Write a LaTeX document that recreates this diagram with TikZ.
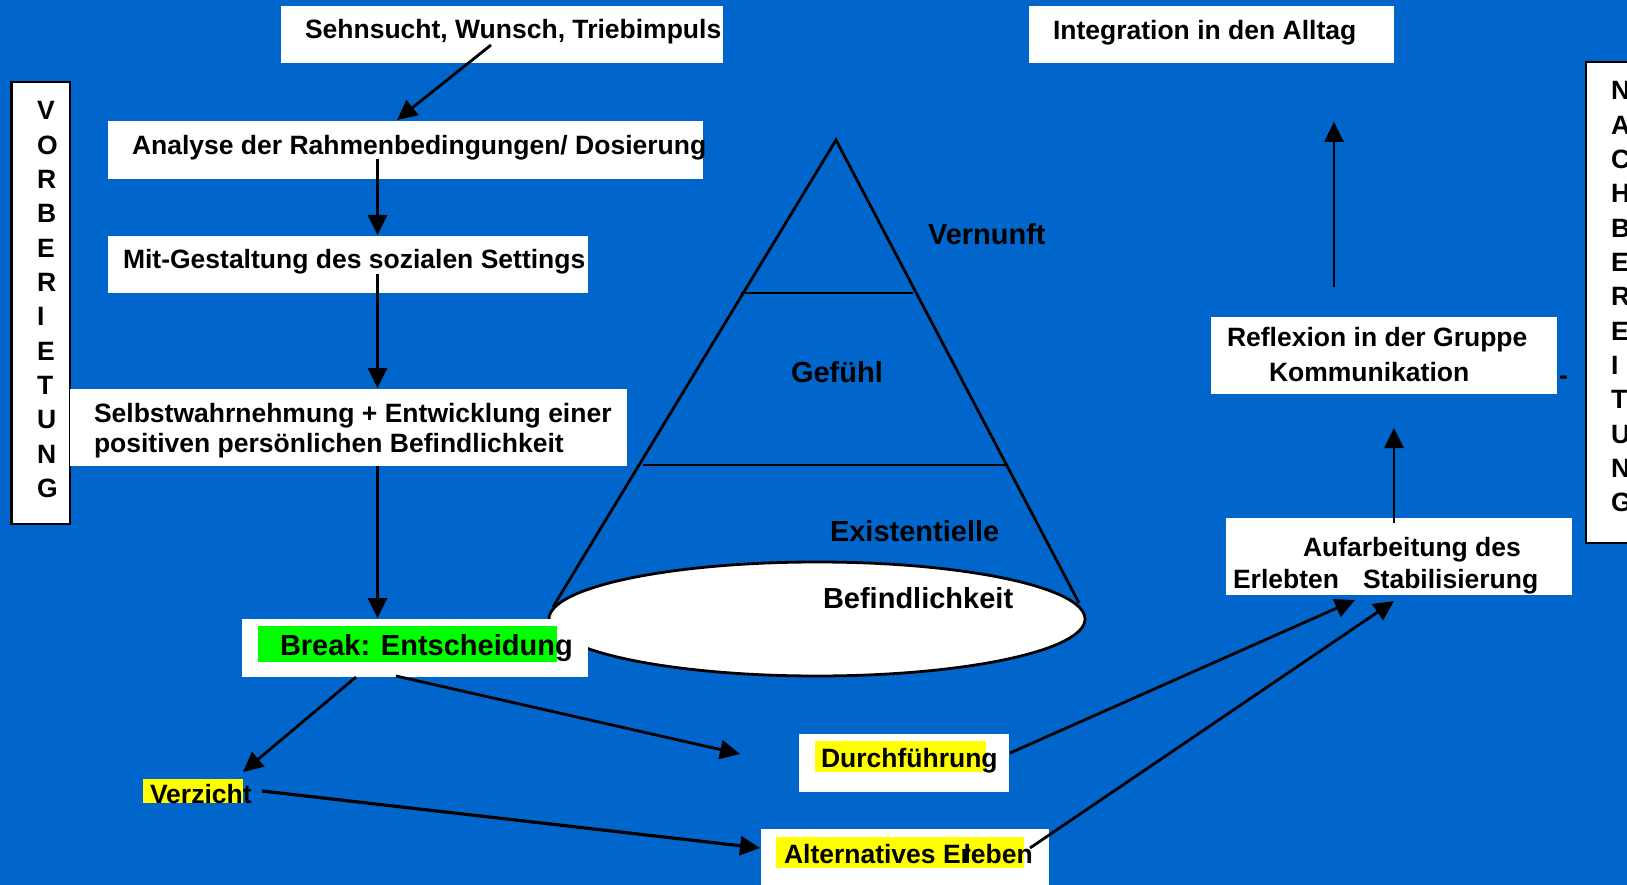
\documentclass[tikz,border=0pt]{standalone}
\usepackage{fontspec}
\setmainfont{Liberation Sans}
\usetikzlibrary{arrows.meta,shapes.geometric}
\definecolor{bgblue}{RGB}{0,102,204}
\definecolor{hlgreen}{RGB}{0,255,0}
\definecolor{hlyellow}{RGB}{255,255,0}
\newcommand\lblfont{\fontsize{26.5}{30}\selectfont\bfseries}
\newcommand\bigfont{\fontsize{29}{33}\selectfont\bfseries}
\tikzset{
  box/.style={fill=white, draw=none, inner sep=0pt, outer sep=0pt, anchor=north west},
  sidebox/.style={fill=white, draw=black, line width=2.5pt, inner sep=0pt, outer sep=0pt, anchor=north west},
  txt/.style={anchor=base west, inner sep=0pt, outer sep=0pt, font=\lblfont, text=black},
  bigtxt/.style={txt, font=\bigfont},
  arr/.style={line width=2.8pt, draw=black, -{Triangle[length=20pt,width=19pt]}},
  pyr/.style={line width=2.8pt, draw=black},
}
\begin{document}
\begin{tikzpicture}[x=1pt,y=-1pt]
\useasboundingbox (0,0) rectangle (1627,885);
\fill[bgblue] (0,0) rectangle (1627,885);
\clip (0,0) rectangle (1627,885);

% pyramid
\coordinate (apex) at (836,140);
\coordinate (pl) at (553,607);
\coordinate (pr) at (1079,603);
\coordinate (d1l) at (741,293);
\coordinate (d1r) at (913,293);
\coordinate (d2l) at (643,465);
\coordinate (d2r) at (1008,465);
\draw[pyr] (pl) -- (apex) -- (pr);
\draw[pyr] (d1l) -- (d1r);
\draw[pyr] (d2l) -- (d2r);
\node[ellipse, draw=black, fill=white, line width=2.8pt, minimum width=536pt, minimum height=114pt, inner sep=0pt] (ell) at (817,619) {};

% side boxes
\node[sidebox, minimum width=58.5pt, minimum height=442pt] (vorb) at (11.5,82) {};
\node[sidebox, minimum width=60pt, minimum height=481pt] (nach) at (1586,62) {};
\foreach \l [count=\i] in {V,O,R,B,E,R,I,E,T,U,N,G}
  \node[txt] (v\i) at (37,{120+34.3*(\i-1)}) {\l};
\foreach \l [count=\i] in {N,A,C,H,B,E,R,E,I,T,U,N,G}
  \node[txt] (n\i) at (1611,{100+34.3*(\i-1)}) {\l};

% white boxes
\node[box, minimum width=442pt, minimum height=57pt] (sehn) at (281,6) {};
\node[box, minimum width=595pt, minimum height=58pt] (analyse) at (108,121) {};
\node[box, minimum width=480pt, minimum height=57pt] (mit) at (108,236) {};
\node[box, minimum width=557pt, minimum height=77pt] (selbst) at (70,389) {};
\node[box, minimum width=346pt, minimum height=58pt] (brk) at (242,619) {};
\node[box, minimum width=210pt, minimum height=58pt] (durch) at (799,734) {};
\node[box, minimum width=288pt, minimum height=60pt] (alt) at (761,829) {};
\node[box, minimum width=365pt, minimum height=57pt] (integ) at (1029,6) {};
\node[box, minimum width=346pt, minimum height=77pt] (refl) at (1211,317) {};
\node[box, minimum width=346pt, minimum height=77pt] (aufarb) at (1226,518) {};

% highlights
\fill[hlgreen] (258,626) rectangle (557,662);
\fill[hlyellow] (143,779) rectangle (243,803);
\fill[hlyellow] (815,741) rectangle (986,772);
\fill[hlyellow] (776,837) rectangle (1024,868);

% texts
\node[txt] (tsehn) at (305,39) {Sehnsucht, Wunsch, Triebimpuls};
\node[txt] (tanalyse) at (132,155) {Analyse der Rahmenbedingungen/ Dosierung};
\node[txt] (tmit) at (123,269) {Mit-Gestaltung des sozialen Settings};
\node[txt] (tselbst1) at (94,422) {Selbstwahrnehmung + Entwicklung einer};
\node[txt] (tselbst2) at (94,452) {positiven persönlichen Befindlichkeit};
\node[bigtxt] (tbrk) at (280,655) {Break: Entscheidung};
\node[txt] (tverz) at (150,803) {Verzicht};
\node[txt] (tdurch) at (821,767) {Durchführung};
\node[txt] (talt) at (784,863) {Alternatives Er\kern-7.5pt leben};
\node[txt] (tinteg) at (1053,40) {Integration in den Alltag};
\node[txt] (trefl1) at (1227,346) {Reflexion in der Gruppe};
\node[txt] (trefl2) at (1269,381) {Kommunikation};
\node[txt] (tdash) at (1559,384) {-};
\node[txt] (tauf1) at (1303,556) {Aufarbeitung des};
\node[txt] (tauf2) at (1233,588) {Erlebten\hspace{24pt}Stabilisierung};
\node[bigtxt] (tvern) at (928,245) {Vernunft};
\node[bigtxt] (tgef) at (791,382) {Gefühl};
\node[bigtxt] (texist) at (830,541) {Existentielle};
\node[bigtxt] (tbefind) at (823,608) {Befindlichkeit};

% connector endpoints
\coordinate (c1s) at (491,45);   \coordinate (c1e) at (397,120);
\coordinate (c2s) at (377.5,159);\coordinate (c2e) at (377.5,235);
\coordinate (c3s) at (377.5,274);\coordinate (c3e) at (377.5,388);
\coordinate (c4s) at (377.5,466);\coordinate (c4e) at (377.5,618);
\coordinate (c5s) at (356,677);  \coordinate (c5e) at (243,772);
\coordinate (c6s) at (396,676);  \coordinate (c6e) at (740,754);
\coordinate (c7s) at (262,791);  \coordinate (c7e) at (760,848);
\coordinate (c8s) at (1010,753); \coordinate (c8e) at (1355,600);
\coordinate (c9s) at (1030,848); \coordinate (c9e) at (1394,601);
\coordinate (c10s) at (1394,523);\coordinate (c10e) at (1394,428);
\coordinate (c11s) at (1334,287);\coordinate (c11e) at (1334,122);

\draw[arr] (c1s) -- (c1e);
\draw[arr] (c2s) -- (c2e);
\draw[arr] (c3s) -- (c3e);
\draw[arr] (c4s) -- (c4e);
\draw[arr] (c5s) -- (c5e);
\draw[arr] (c6s) -- (c6e);
\draw[arr, line width=3.2pt] (c7s) -- (c7e);
\draw[arr] (c8s) -- (c8e);
\draw[arr] (c9s) -- (c9e);
\draw[arr] (c10s) -- (c10e);
\draw[arr] (c11s) -- (c11e);
\end{tikzpicture}
\end{document}
